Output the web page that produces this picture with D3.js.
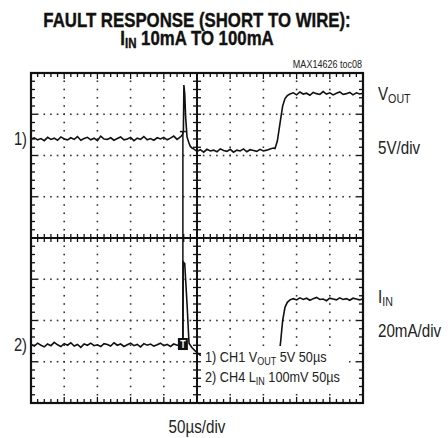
<!DOCTYPE html>
<html lang="en">
<head>
  <meta charset="utf-8" />
  <title>Fault response scope shot</title>
  <style>
    body { margin: 0; background: #fff; }
    text { font-family: "Liberation Sans", Arial, sans-serif; fill: #222; }
    .title { font-weight: bold; fill: #111; stroke: #111; stroke-width: 0.4px; }
  </style>
  <script src="https://d3js.org/d3.v7.min.js"></script>
</head>
<body>
<script>

// scope screen is 10 x 8 divisions, levels in divisions from center
const nDivX = 10, nDivY = 8;

// CH1 VOUT trace [time div, level div]
const ch1 = [
  [0,2.40],[0.1,2.43],[0.2,2.38],[0.3,2.41],[0.4,2.36],[0.5,2.44],[0.6,2.39],[0.7,2.42],[0.8,2.37],[0.9,2.45],
  [1.0,2.40],[1.1,2.38],[1.2,2.43],[1.3,2.39],[1.4,2.46],[1.5,2.37],[1.6,2.41],[1.7,2.44],[1.8,2.38],[1.9,2.42],
  [2.0,2.36],[2.1,2.47],[2.2,2.40],[2.3,2.39],[2.4,2.43],[2.5,2.37],[2.6,2.41],[2.7,2.45],[2.8,2.38],[2.9,2.40],
  [3.0,2.44],[3.1,2.36],[3.2,2.42],[3.3,2.39],[3.4,2.46],[3.5,2.38],[3.6,2.41],[3.7,2.37],[3.8,2.43],[3.9,2.40],
  [4.0,2.44],[4.1,2.38],[4.2,2.42],[4.3,2.47],[4.4,2.39],[4.5,2.45],[4.56,2.50],[4.59,2.60],
  [4.605,3.71],[4.63,3.50],[4.66,2.90],[4.70,2.45],[4.75,2.32],[4.80,2.22],[4.85,2.18],
  [4.9,2.16],[5.0,2.10],[5.1,2.14],[5.2,2.08],[5.3,2.15],[5.4,2.11],[5.5,2.13],[5.6,2.09],[5.7,2.16],[5.8,2.12],
  [5.9,2.10],[6.0,2.15],[6.1,2.08],[6.2,2.13],[6.3,2.11],[6.4,2.16],[6.5,2.09],[6.6,2.14],[6.7,2.12],[6.8,2.10],
  [6.9,2.15],[7.0,2.11],[7.1,2.13],[7.2,2.16],[7.3,2.18],
  [7.35,2.17],[7.42,2.35],[7.5,2.78],[7.58,3.20],[7.65,3.38],[7.72,3.45],[7.8,3.49],
  [7.9,3.52],[8.0,3.47],[8.1,3.54],[8.2,3.49],[8.3,3.51],[8.4,3.46],[8.5,3.53],[8.6,3.50],[8.7,3.48],[8.8,3.55],
  [8.9,3.49],[9.0,3.52],[9.1,3.47],[9.2,3.51],[9.3,3.54],[9.4,3.48],[9.5,3.50],[9.6,3.53],[9.7,3.47],[9.8,3.52],
  [9.9,3.49],[10,3.51]
];

// CH4 IIN trace
const ch2 = [
  [0,-2.58],[0.1,-2.62],[0.2,-2.55],[0.3,-2.60],[0.4,-2.64],[0.5,-2.57],[0.6,-2.61],[0.7,-2.53],[0.8,-2.59],[0.9,-2.63],
  [1.0,-2.56],[1.1,-2.60],[1.2,-2.54],[1.3,-2.62],[1.4,-2.58],[1.5,-2.65],[1.6,-2.57],[1.7,-2.60],[1.8,-2.55],[1.9,-2.61],
  [2.0,-2.59],[2.1,-2.63],[2.2,-2.56],[2.3,-2.58],[2.4,-2.62],[2.5,-2.54],[2.6,-2.60],[2.7,-2.57],[2.8,-2.63],[2.9,-2.59],
  [3.0,-2.55],[3.1,-2.61],[3.2,-2.58],[3.3,-2.64],[3.4,-2.56],[3.5,-2.60],[3.6,-2.57],[3.7,-2.62],[3.8,-2.59],[3.9,-2.55],
  [4.0,-2.61],[4.1,-2.58],[4.2,-2.63],[4.3,-2.57],[4.4,-2.60],[4.5,-2.59],
  [4.575,-2.58],[4.585,-0.58],[4.63,-0.62],[4.70,-1.60],[4.76,-2.55],[4.85,-2.66],[5.0,-2.78],[5.1,-2.84],
  [5.3,-2.85],[5.6,-2.83],[6.0,-2.86],[6.5,-2.84],[7.0,-2.85],[7.4,-2.84],[7.48,-2.78],
  [7.52,-2.51],[7.58,-2.00],[7.65,-1.68],[7.72,-1.56],[7.8,-1.50],
  [7.9,-1.47],[8.0,-1.50],[8.1,-1.45],[8.2,-1.49],[8.3,-1.46],[8.4,-1.51],[8.5,-1.47],[8.6,-1.44],[8.7,-1.49],[8.8,-1.48],
  [8.9,-1.52],[9.0,-1.46],[9.1,-1.48],[9.2,-1.50],[9.3,-1.45],[9.4,-1.49],[9.5,-1.47],[9.6,-1.51],[9.7,-1.46],[9.8,-1.48],
  [9.9,-1.50],[10,-1.47]
];

// trigger cursor: time, top level, bottom level
const trigger = { t: 4.575, top: 2.58, bottom: -2.45, marker: -2.57 };

// channel ground reference levels for the "1)" "2)" markers
const chanLabels = [
  { name: "1)", level: 2.40 },
  { name: "2)", level: -2.59 }
];

const W = 448, H = 438;
const svg = d3.select("body").append("svg")
  .attr("width", W).attr("height", H);

const x = d3.scaleLinear().domain([0, nDivX]).range([31, 363]);
const y = d3.scaleLinear().domain([-nDivY / 2, nDivY / 2]).range([403, 73]);

// no narrow font installed, so squeeze regular one
const narrow = 0.82;
function label(px, py, size, anchor) {
  return svg.append("g")
    .attr("transform", `translate(${px},${py}) scale(${narrow},1)`)
    .append("text")
    .attr("text-anchor", anchor || "start")
    .style("font-size", size + "px");
}

const grid = svg.append("g");

// dotted division lines
const minor = 0.2;
const dotsX = d3.range(0, nDivX + 0.001, minor);
const dotsY = d3.range(-nDivY / 2, nDivY / 2 + 0.001, minor);

for (let i = 1; i < nDivY; i++) {
  const lv = i - nDivY / 2;
  if (lv === 0) continue;
  grid.selectAll(null).data(dotsX.slice(1, -1)).join("rect")
    .attr("x", d => x(d) - 0.8).attr("y", y(lv) - 0.8)
    .attr("width", 1.6).attr("height", 1.6).attr("fill", "#333");
}
for (let i = 1; i < nDivX; i++) {
  if (i === nDivX / 2) continue;
  grid.selectAll(null).data(dotsY.slice(1, -1)).join("rect")
    .attr("x", x(i) - 0.8).attr("y", d => y(d) - 0.8)
    .attr("width", 1.6).attr("height", 1.6).attr("fill", "#333");
}

// center axes with cross ticks
grid.append("line").attr("x1", x(0)).attr("x2", x(nDivX)).attr("y1", y(0)).attr("y2", y(0))
  .attr("stroke", "#111").attr("stroke-width", 2);
grid.append("line").attr("x1", x(nDivX / 2)).attr("x2", x(nDivX / 2)).attr("y1", y(-4)).attr("y2", y(4))
  .attr("stroke", "#111").attr("stroke-width", 2);

grid.selectAll(null).data(dotsX).join("line")
  .attr("x1", d => x(d)).attr("x2", d => x(d))
  .attr("y1", y(0) - 4).attr("y2", y(0) + 4)
  .attr("stroke", "#111").attr("stroke-width", 1.3);
grid.selectAll(null).data(dotsY).join("line")
  .attr("x1", x(nDivX / 2) - 4).attr("x2", x(nDivX / 2) + 4)
  .attr("y1", d => y(d)).attr("y2", d => y(d))
  .attr("stroke", "#111").attr("stroke-width", 1.3);

// frame ticks pointing inward, a bit longer on whole divisions
const tk = d => Math.abs(d - Math.round(d)) < 0.01 ? 6 : 4;
grid.selectAll(null).data(dotsX).join("line") // top
  .attr("x1", d => x(d)).attr("x2", d => x(d))
  .attr("y1", y(4)).attr("y2", d => y(4) + tk(d))
  .attr("stroke", "#111").attr("stroke-width", 1.3);
grid.selectAll(null).data(dotsX).join("line") // bottom
  .attr("x1", d => x(d)).attr("x2", d => x(d))
  .attr("y1", y(-4)).attr("y2", d => y(-4) - tk(d))
  .attr("stroke", "#111").attr("stroke-width", 1.3);
grid.selectAll(null).data(dotsY).join("line") // left
  .attr("x1", x(0)).attr("x2", d => x(0) + tk(d))
  .attr("y1", d => y(d)).attr("y2", d => y(d))
  .attr("stroke", "#111").attr("stroke-width", 1.3);
grid.selectAll(null).data(dotsY).join("line") // right
  .attr("x1", x(nDivX)).attr("x2", d => x(nDivX) - tk(d))
  .attr("y1", d => y(d)).attr("y2", d => y(d))
  .attr("stroke", "#111").attr("stroke-width", 1.3);

// traces
const line = d3.line().x(d => x(d[0])).y(d => y(d[1]));
svg.append("path").datum(ch2).attr("d", line)
  .attr("fill", "none").attr("stroke", "#111").attr("stroke-width", 1.6);
svg.append("path").datum(ch1).attr("d", line)
  .attr("fill", "none").attr("stroke", "#111").attr("stroke-width", 1.6);

// trigger cursor line and marker
svg.append("line")
  .attr("x1", x(trigger.t)).attr("x2", x(trigger.t))
  .attr("y1", y(trigger.top)).attr("y2", y(trigger.bottom))
  .attr("stroke", "#111").attr("stroke-width", 1.5);
svg.append("line")
  .attr("x1", x(trigger.t) - 3).attr("x2", x(trigger.t) + 3)
  .attr("y1", y(trigger.top)).attr("y2", y(trigger.top))
  .attr("stroke", "#111").attr("stroke-width", 1.5);
svg.append("rect")
  .attr("x", x(trigger.t) - 5).attr("y", y(trigger.marker) - 6)
  .attr("width", 10).attr("height", 12).attr("fill", "#111");
label(x(trigger.t), y(trigger.marker) + 4, 11, "middle")
  .style("font-weight", "bold").style("fill", "#fff").text("T");

// frame
svg.append("rect").attr("x", x(0)).attr("y", y(4))
  .attr("width", x(nDivX) - x(0)).attr("height", y(-4) - y(4))
  .attr("fill", "none").attr("stroke", "#111").attr("stroke-width", 2.2);

// channel markers
chanLabels.forEach(d => {
  label(27, y(d.level) + 6, 18, "end").text(d.name);
});

// settings box
svg.append("rect").attr("x", 201).attr("y", 346).attr("width", 148).attr("height", 43).attr("fill", "#fff");
const note1 = label(205, 362, 15.5);
note1.append("tspan").text("1) CH1 V");
note1.append("tspan").attr("dy", 3).style("font-size", "11px").text("OUT");
note1.append("tspan").attr("dy", -3).text(" 5V 50µs");
const note2 = label(205, 382, 15.5);
note2.append("tspan").text("2) CH4 L");
note2.append("tspan").attr("dy", 3).style("font-size", "11px").text("IN");
note2.append("tspan").attr("dy", -3).text(" 100mV 50µs");

// titles
label(197, 26.5, 20.5, "middle").attr("class", "title").text("FAULT RESPONSE (SHORT TO WIRE):");
const t2 = label(197, 44.5, 20.5, "middle").attr("class", "title");
t2.append("tspan").text("I");
t2.append("tspan").attr("dy", 3).style("font-size", "14px").text("IN");
t2.append("tspan").attr("dy", -3).text(" 10mA TO 100mA");

label(362, 68, 11, "end").text("MAX14626 toc08");

// right side scale labels
const r1 = label(378, 100, 18.5);
r1.append("tspan").text("V");
r1.append("tspan").attr("dy", 3).style("font-size", "13px").text("OUT");
label(378, 154, 18.5).text("5V/div");
const r2 = label(378, 303, 18.5);
r2.append("tspan").text("I");
r2.append("tspan").attr("dy", 3).style("font-size", "13px").text("IN");
label(378, 337, 18.5).text("20mA/div");

label(197, 433, 18.5, "middle").text("50µs/div");

</script>
</body>
</html>
